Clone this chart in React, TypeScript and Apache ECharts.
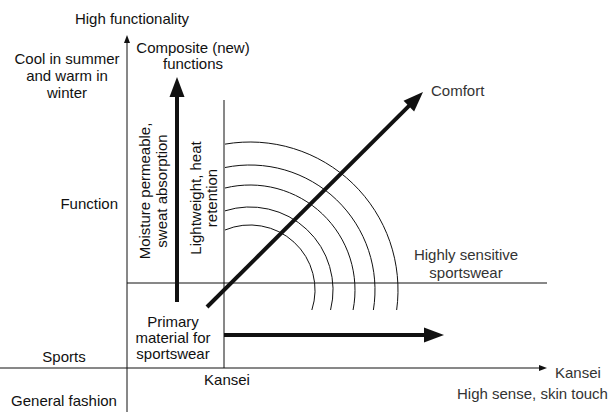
import React, { useEffect, useRef } from "react";
import * as echarts from "echarts";

// Diagram space: x 0..614 (left→right), y 0..412 (top→bottom)
const X_RANGE = [0, 614];
const Y_RANGE = [0, 412];

// thin straight lines [x1, y1, x2, y2]
const thinLines: number[][] = [
  [127, 40, 127, 412], // functionality axis
  [0, 368, 540, 368], // kansei axis
  [127, 283, 547, 283], // sportswear baseline
  [224, 100, 224, 368], // kansei divider
];

// small axis arrowheads [fromX, fromY, tipX, tipY]
const axisArrows: number[][] = [
  [127, 60, 127, 35],
  [520, 368, 547, 368],
];

// thick arrows [fromX, fromY, tipX, tipY]
const thickArrows: number[][] = [
  [177, 302, 177, 77],
  [207, 307, 423, 92],
  [224, 335, 444, 335],
];

// concentric arcs [cx, cy, r]
const arcCenter = [250, 290];
const arcRadii = [65, 83, 105, 125, 148];
const arcLeftX = 225;
const arcBottomY = 310;

// labels [x, y]
const labelTexts = [
  "High functionality",
  "Cool in summer\nand warm in\nwinter",
  "Composite (new)\nfunctions",
  "Function",
  "Moisture permeable,\nsweat absorption",
  "Lightweight, heat\nretention",
  "Comfort",
  "Highly sensitive\nsportswear",
  "Primary\nmaterial for\nsportswear",
  "Sports",
  "Kansei",
  "General fashion",
  "Kansei",
  "High sense, skin touch",
];
const labelPos: number[][] = [
  [132, 18],
  [67, 75],
  [193, 55],
  [118, 203],
  [153, 191],
  [203, 198],
  [431, 90],
  [466, 263],
  [173, 337],
  [64, 356],
  [227, 379],
  [64, 400],
  [555, 372],
  [457, 393],
];
const labelAlign = ["center", "center", "center", "right", "center", "center", "left", "center", "center", "center", "center", "center", "left", "left"];
const labelRotate = [0, 0, 0, 0, 90, 90, 0, 0, 0, 0, 0, 0, 0, 0];
const labelLineHeight = [17, 17, 16, 17, 17, 16, 17, 18, 16, 17, 17, 17, 17, 17];
const labelColor = ["#111", "#111", "#111", "#111", "#111", "#111", "#333", "#333", "#111", "#111", "#111", "#111", "#333", "#333"];

const INK = "#111";
const FONT = "'Liberation Sans', Arial, sans-serif";

function arrowRender(lineWidth: number, headLen: number, headHalf: number) {
  return (params: any, api: any) => {
    const p1 = api.coord([api.value(0), api.value(1)]);
    const p2 = api.coord([api.value(2), api.value(3)]);
    const dx = p2[0] - p1[0];
    const dy = p2[1] - p1[1];
    const len = Math.hypot(dx, dy) || 1;
    const ux = dx / len;
    const uy = dy / len;
    const bx = p2[0] - ux * headLen;
    const by = p2[1] - uy * headLen;
    const px = -uy;
    const py = ux;
    return {
      type: "group",
      children: [
        {
          type: "line",
          shape: { x1: p1[0], y1: p1[1], x2: bx + ux * 2, y2: by + uy * 2 },
          style: { stroke: INK, lineWidth, fill: "none" },
        },
        {
          type: "polygon",
          shape: {
            points: [
              [p2[0], p2[1]],
              [bx + px * headHalf, by + py * headHalf],
              [bx - px * headHalf, by - py * headHalf],
            ],
          },
          style: { fill: INK, stroke: "none" },
        },
      ],
    };
  };
}

export default function App() {
  const ref = useRef<HTMLDivElement>(null);
  useEffect(() => {
    if (!ref.current) return;
    const chart = echarts.init(ref.current, null, { renderer: "svg" });
    chart.setOption({
      animation: false,
      backgroundColor: "#fff",
      grid: { left: 0, right: 0, top: 0, bottom: 0 },
      xAxis: { type: "value", min: X_RANGE[0], max: X_RANGE[1], show: false },
      yAxis: { type: "value", min: Y_RANGE[0], max: Y_RANGE[1], inverse: true, show: false },
      series: [
        {
          type: "custom",
          silent: true,
          data: thinLines,
          renderItem: (params: any, api: any) => {
            const p1 = api.coord([api.value(0), api.value(1)]);
            const p2 = api.coord([api.value(2), api.value(3)]);
            return {
              type: "line",
              shape: { x1: p1[0], y1: p1[1], x2: p2[0], y2: p2[1] },
              style: { stroke: INK, lineWidth: 1, fill: "none" },
            };
          },
        },
        {
          type: "custom",
          silent: true,
          data: axisArrows,
          renderItem: (params: any, api: any) => {
            const p1 = api.coord([api.value(0), api.value(1)]);
            const p2 = api.coord([api.value(2), api.value(3)]);
            const dx = p2[0] - p1[0];
            const dy = p2[1] - p1[1];
            const len = Math.hypot(dx, dy) || 1;
            const ux = dx / len, uy = dy / len;
            const L = 8, W = 3;
            const bx = p2[0] - ux * L, by = p2[1] - uy * L;
            return {
              type: "polygon",
              shape: { points: [[p2[0], p2[1]], [bx - uy * W, by + ux * W], [bx + uy * W, by - ux * W]] },
              style: { fill: INK, stroke: "none" },
            };
          },
        },
        {
          type: "custom",
          silent: true,
          data: thickArrows,
          renderItem: arrowRender(4, 20, 7.5),
        },
        {
          type: "custom",
          silent: true,
          data: arcRadii.map((r) => [arcCenter[0], arcCenter[1], r]),
          renderItem: (params: any, api: any) => {
            const c = api.coord([api.value(0), api.value(1)]);
            const e = api.coord([api.value(0) + api.value(2), api.value(1)]);
            const r = e[0] - c[0];
            const leftX = api.coord([arcLeftX, api.value(1)])[0];
            const botY = api.coord([api.value(0), arcBottomY])[1];
            const a = Math.acos(Math.min(1, (c[0] - leftX) / r));
            const start = -Math.PI + a;
            const end = Math.asin(Math.min(1, (botY - c[1]) / r));
            return {
              type: "arc",
              shape: { cx: c[0], cy: c[1], r, startAngle: start, endAngle: end, clockwise: true },
              style: { stroke: INK, lineWidth: 1, fill: "none" },
            };
          },
        },
        {
          type: "custom",
          silent: true,
          data: labelPos,
          renderItem: (params: any, api: any) => {
            const i = params.dataIndex;
            const p = api.coord([api.value(0), api.value(1)]);
            return {
              type: "text",
              x: p[0],
              y: p[1],
              rotation: (labelRotate[i] * Math.PI) / 180,
              style: {
                text: labelTexts[i],
                fill: labelColor[i],
                fontSize: 15,
                fontFamily: FONT,
                align: labelAlign[i],
                verticalAlign: "middle",
                lineHeight: labelLineHeight[i],
              },
            };
          },
        },
      ],
    });
    return () => chart.dispose();
  }, []);
  return (
    <div
      ref={ref}
      style={{ position: "absolute", left: 0, top: 0, width: 614, height: 412 }}
    />
  );
}
